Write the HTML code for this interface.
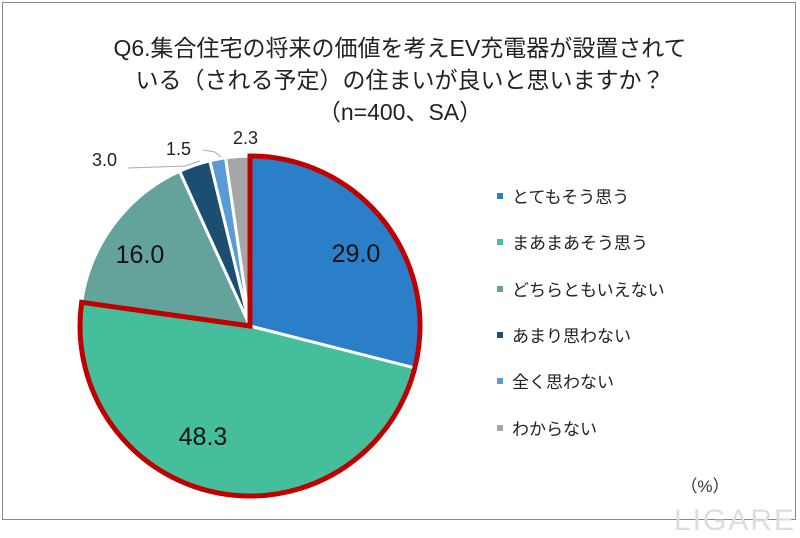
<!DOCTYPE html>
<html><head><meta charset="utf-8"><style>
body{margin:0;background:#fff;width:800px;height:533px;overflow:hidden;font-family:"Liberation Sans","Noto Sans CJK JP",sans-serif;}
</style></head><body>
<svg id="s" width="800" height="533" xmlns="http://www.w3.org/2000/svg" font-family="Liberation Sans, Noto Sans CJK JP, sans-serif">
<rect x="2.5" y="2.5" width="793" height="517" fill="#fff" stroke="#888" stroke-width="1"/>
<text x="400" y="56" text-anchor="middle" font-size="23" fill="#222">Q6.集合住宅の将来の価値を考えEV充電器が設置されて</text>
<text x="400" y="88" text-anchor="middle" font-size="23" fill="#222">いる（される予定）の住まいが良いと思いますか？</text>
<text x="400" y="120" text-anchor="middle" font-size="23" fill="#222">（n=400、SA）</text>
<g id="pie"></g>
<g font-size="25" fill="#111">
<text x="356" y="262" text-anchor="middle">29.0</text>
<text x="203" y="445" text-anchor="middle">48.3</text>
<text x="140" y="263" text-anchor="middle">16.0</text>
</g>
<g font-size="18" fill="#222">
<text x="92" y="166">3.0</text>
<text x="166" y="155">1.5</text>
<text x="233" y="144">2.3</text>
</g>
<polyline points="128,168 185,166 200,161" fill="none" stroke="#aaa" stroke-width="1"/>
<polyline points="203,150 215,152 221,157" fill="none" stroke="#aaa" stroke-width="1"/>
<g font-size="17" fill="#222">
<rect x="497" y="193" width="6" height="6" fill="#2a7fc8"/><text x="512" y="203">とてもそう思う</text>
<rect x="497" y="239" width="6" height="6" fill="#45bf9b"/><text x="512" y="249">まあまあそう思う</text>
<rect x="497" y="286" width="6" height="6" fill="#64a39c"/><text x="512" y="296">どちらともいえない</text>
<rect x="497" y="332" width="6" height="6" fill="#1b4f72"/><text x="512" y="342">あまり思わない</text>
<rect x="497" y="378" width="6" height="6" fill="#5b9bd5"/><text x="512" y="388">全く思わない</text>
<rect x="497" y="425" width="6" height="6" fill="#a6a6a6"/><text x="512" y="435">わからない</text>
</g>
<text x="705" y="492" text-anchor="middle" font-size="17" fill="#333">（%）</text>
<text x="735" y="530" text-anchor="middle" font-size="30" fill="#ddd" letter-spacing="2">LIGARE</text>
</svg>
<script>
var cx=250,cy=326,r=170;
var d=[[29.0,"#2a7fc8"],[48.3,"#45bf9b"],[16.0,"#64a39c"],[3.0,"#1b4f72"],[1.5,"#5b9bd5"],[2.3,"#a6a6a6"]];
var tot=100.1,a=0,h="";
function pt(t,rr){var an=t/tot*2*Math.PI;return [cx+rr*Math.sin(an),cy-rr*Math.cos(an)];}
function arc(a0,a1){var p0=pt(a0,r),p1=pt(a1,r),l=(a1-a0)/tot>0.5?1:0;
return "M"+cx+","+cy+"L"+p0[0]+","+p0[1]+"A"+r+","+r+" 0 "+l+" 1 "+p1[0]+","+p1[1]+"Z";}
d.forEach(function(s){h+='<path d="'+arc(a,a+s[0])+'" fill="'+s[1]+'" stroke="#fff" stroke-width="3" stroke-linejoin="round"/>';a+=s[0];});
h+='<path d="'+arc(0,77.3)+'" fill="none" stroke="#c00000" stroke-width="5" stroke-linejoin="miter"/>';
document.getElementById("pie").innerHTML=h;
</script>
</body></html>
